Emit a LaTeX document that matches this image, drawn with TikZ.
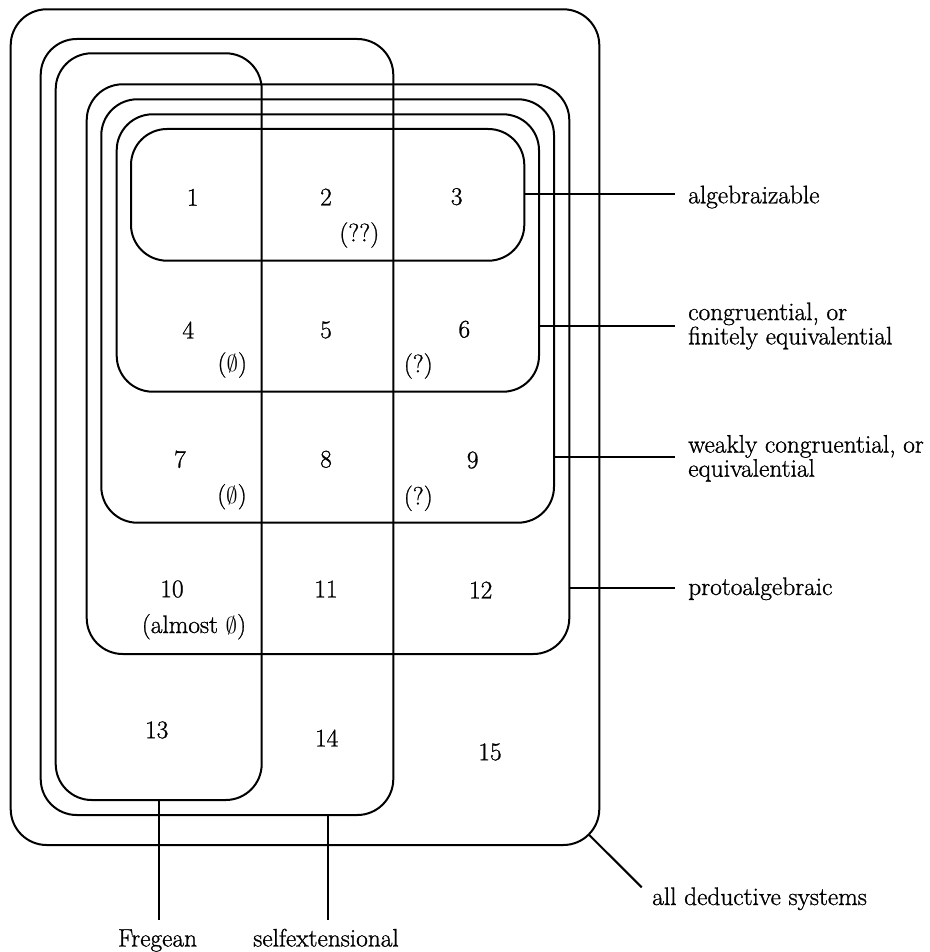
\documentclass[tikz,border=0pt]{standalone}
\usepackage{fontspec}
\usetikzlibrary{fit}
\newfontfamily\diafont{Latin Modern Roman}[FakeBold=1]
\begin{document}
\begin{tikzpicture}[x=0.75pt, y=-0.75pt,
  region/.style={draw, line width=1.5pt, rounded corners=27pt, rectangle, inner sep=0pt},
  conn/.style={line width=1.5pt},
  txt/.style={font=\diafont\fontsize{19}{17}\selectfont, inner sep=0pt},
  lab/.style={txt, align=left}]
\useasboundingbox (0,0) rectangle (929,952);

% nested classes of deductive systems
\node[region, fit={(10.7,9.3) (599.3,845)}] (all) {};
\node[region, fit={(40.7,39) (393.3,815)}] (self) {};
\node[region, fit={(55.7,53.3) (261.7,800)}] (freg) {};
\node[region, fit={(86.7,84.3) (569.3,654)}] (proto) {};
\node[region, fit={(101.3,99.3) (554,522.7)}] (weak) {};
\node[region, fit={(116.7,114.3) (539,391.7)}] (cong) {};
\node[region, fit={(131,129) (524.3,260.7)}] (alg) {};

% numbered cells
\node[txt] (n1) at (192.7,197.3) {1};
\node[txt] (n2) at (326,197) {2};
\node[txt] (q2) at (359.3,235) {(??)};
\node[txt] (n3) at (456.7,196.7) {3};
\node[txt] (n4) at (188.3,330) {4};
\node[txt] (e4) at (232.3,365) {($\emptyset$)};
\node[txt] (n5) at (326,330) {5};
\node[txt] (n6) at (464.3,329.3) {6};
\node[txt] (q6) at (418.3,366) {(?)};
\node[txt] (n7) at (180,459.3) {7};
\node[txt] (e7) at (232,496.7) {($\emptyset$)};
\node[txt] (n8) at (326,459.3) {8};
\node[txt] (n9) at (472.7,460) {9};
\node[txt] (q9) at (418.3,498.3) {(?)};
\node[txt] (n10) at (172,589) {10};
\node[txt] (a10) at (194,626.7) {(almost $\emptyset$)};
\node[txt] (n11) at (326,589) {11};
\node[txt] (n12) at (480.7,590) {12};
\node[txt] (n13) at (156.7,730) {13};
\node[txt] (n14) at (326.7,738) {14};
\node[txt] (n15) at (490,752) {15};

% class names (base anchor of a two-line name sits on its last line)
\node[lab, anchor=base west] (lalg) at (688,203.3) {algebraizable};
\node[lab, anchor=base west] (lcong) at (688,344.4) {congruential, or\\finitely equivalential};
\node[lab, anchor=base west] (lweak) at (688,476.7) {weakly congruential, or\\equivalential};
\node[lab, anchor=base west] (lproto) at (688,595) {protoalgebraic};
\node[lab, anchor=base west] (lall) at (652,905) {all deductive systems};
\node[lab, anchor=base] (lfreg) at (157.5,946.5) {Fregean};
\node[lab, anchor=base] (lself) at (326,946.5) {selfextensional};

% leader lines
\coordinate (ealg) at (675,194.3);
\coordinate (econg) at (675,325.7);
\coordinate (eweak) at (675,456.7);
\coordinate (eproto) at (675,588.3);
\coordinate (efreg) at (159.3,920);
\coordinate (eself) at (327.7,920);
\coordinate (sall) at (588.8,834.5);
\coordinate (eall) at (641.7,887.3);
\draw[conn] (alg.east |- ealg) -- (ealg);
\draw[conn] (cong.east |- econg) -- (econg);
\draw[conn] (weak.east |- eweak) -- (eweak);
\draw[conn] (proto.east |- eproto) -- (eproto);
\draw[conn] (freg.south -| efreg) -- (efreg);
\draw[conn] (self.south -| eself) -- (eself);
\draw[conn] (sall) -- (eall);
\end{tikzpicture}
\end{document}
